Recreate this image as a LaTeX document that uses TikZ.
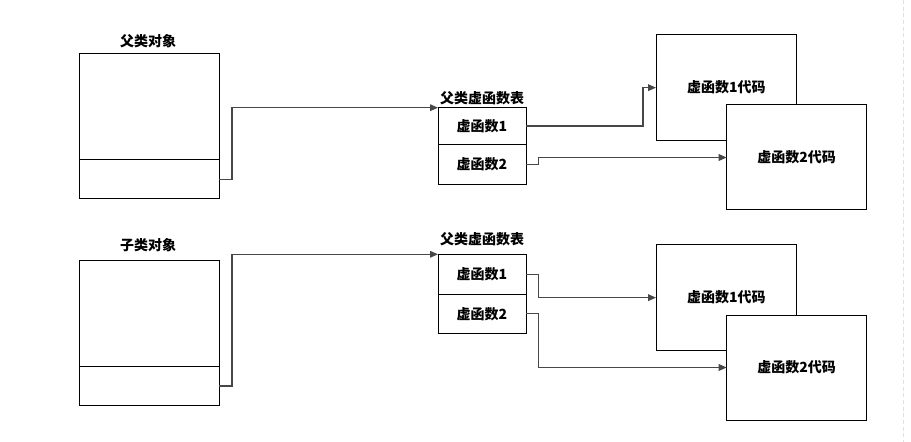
\documentclass[tikz,border=0pt]{standalone}
\usepackage{fontspec}
\newfontfamily\cjk{Noto Sans CJK SC}
\usetikzlibrary{arrows.meta}
\newcommand\pbox[6]{\node[box, minimum width={(#4-#2)*0.75pt}, minimum height={(#5-#3)*0.75pt}] (#1) at ({(#2+#4)/2},{(#3+#5)/2}) {#6};}
\begin{document}
\begin{tikzpicture}[x=0.75pt,y=-0.75pt,
  box/.style={draw=black, fill=white, line width=0.75pt, inner sep=0pt, outer sep=0pt, rectangle, font=\cjk\bfseries\fontsize{10.5}{12}\selectfont},
  codebox/.style={font=\cjk\bfseries\fontsize{9}{11}\selectfont},
  lbl/.style={font=\cjk\bfseries\fontsize{10.5}{12}\selectfont, inner sep=0pt},
  conn/.style={draw=black!72, line width=1pt, -{Triangle[length=6pt,width=5pt]}}]
\useasboundingbox (0,0) rectangle (911,442);
\draw[black!12, line width=0.75pt, dash pattern=on 3pt off 2pt] (903,0) -- (903,442);

% ---------- top group ----------
\node[lbl] (lblA) at (148,41) {父类对象};
\pbox{objA}{79}{54}{219}{159.7}{}
\pbox{cellA}{79}{159.7}{219}{199}{}
\node[lbl] (vtlA) at (482,98) {父类虚函数表};
\pbox{fA1}{438}{107.7}{526}{144.3}{虚函数1}
\pbox{fA2}{438}{144.3}{526}{184.3}{虚函数2}
\begin{scope}[every node/.append style={codebox}]
\pbox{cA1}{656}{35}{796.7}{140.3}{虚函数1代码}
\pbox{cA2}{726.7}{105}{866.7}{210}{虚函数2代码}
\end{scope}
\draw[conn] (cellA.east) -- ++(13,0) |- (fA1.north west);
\draw[conn] (fA1.east) -- ++(117,0) |- (cA1.west);
\draw[conn] (fA2.east) -- ++(12.3,0) |- (cA2.west);

% ---------- bottom group ----------
\node[lbl] (lblB) at (148,245) {子类对象};
\pbox{objB}{79}{261}{219}{366}{}
\pbox{cellB}{79}{366}{219}{405.7}{}
\node[lbl] (vtlB) at (482,239) {父类虚函数表};
\pbox{fB1}{438}{254.3}{526}{294.3}{虚函数1}
\pbox{fB2}{438}{294.3}{526}{333.3}{虚函数2}
\begin{scope}[every node/.append style={codebox}]
\pbox{cB1}{656}{245}{796.7}{350.3}{虚函数1代码}
\pbox{cB2}{726.7}{315}{866.7}{420}{虚函数2代码}
\end{scope}
\draw[conn] (cellB.east) -- ++(13,0) |- (fB1.north west);
\draw[conn] (fB1.east) -- ++(12.3,0) |- (cB1.west);
\draw[conn] (fB2.east) -- ++(12.3,0) |- (cB2.west);
\end{tikzpicture}
\end{document}
